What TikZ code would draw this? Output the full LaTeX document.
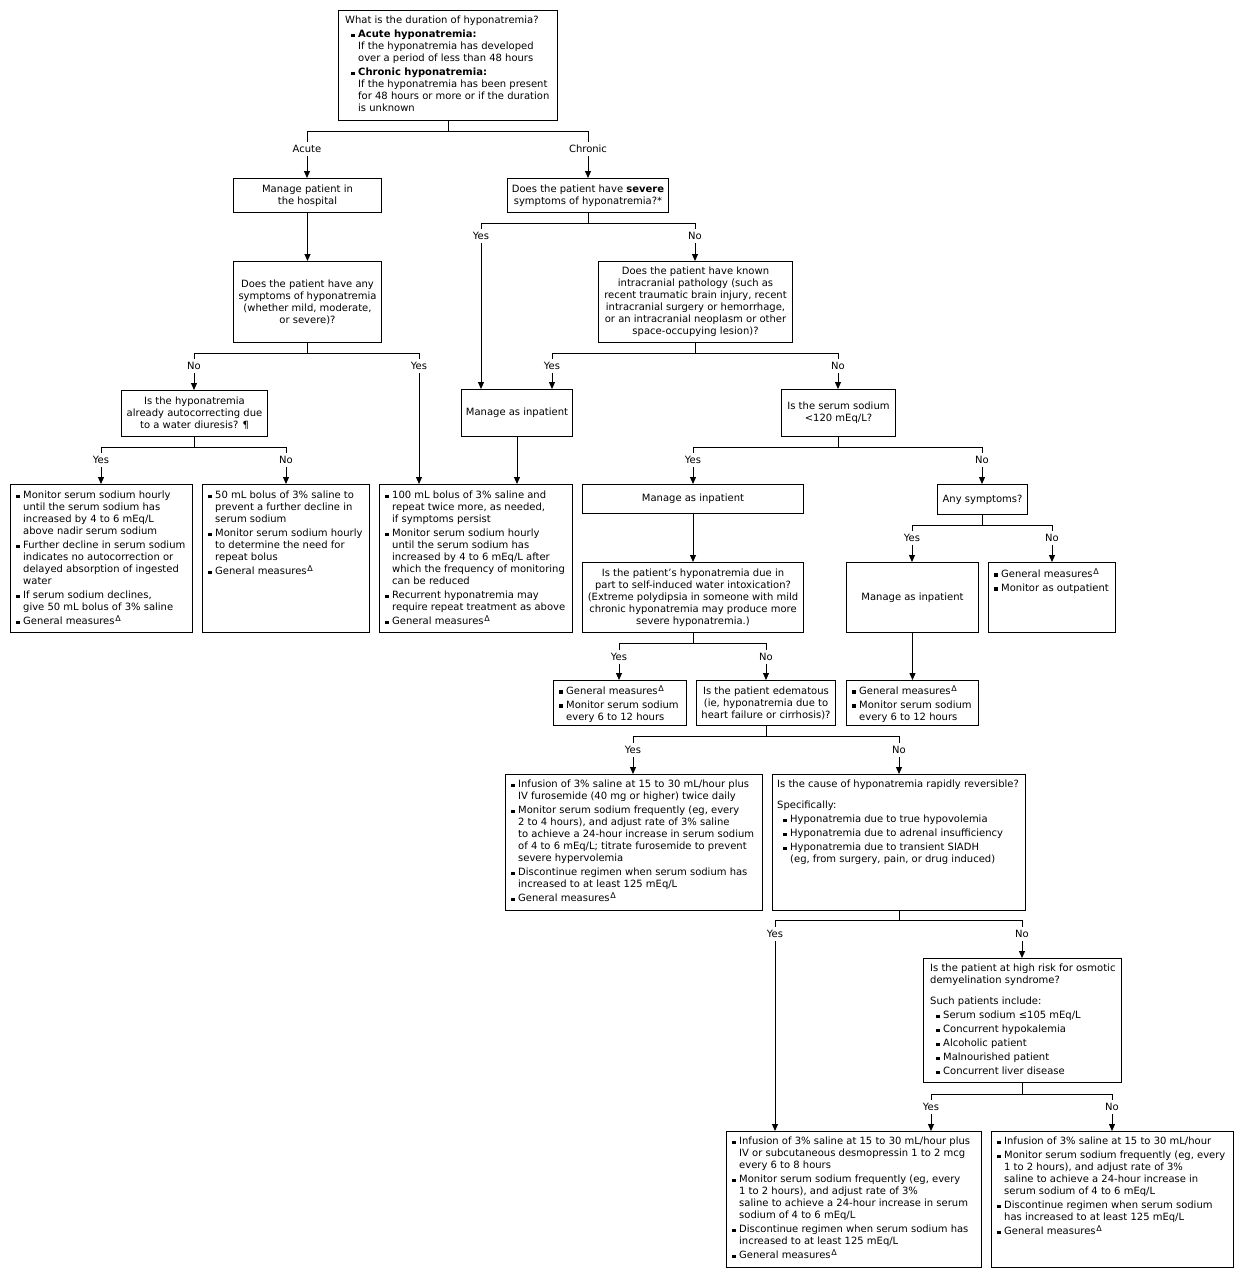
\documentclass[tikz,border=0pt]{standalone}
\usepackage{fontspec}
\setmainfont{DejaVu Sans}
\usetikzlibrary{arrows.meta}
\newcommand\fs{\fontsize{10bp}{12bp}\selectfont}
\newcommand\bu{\makebox[7bp][l]{\rule[0.6bp]{3.6bp}{3.6bp}}}
\newcommand\ci{\hspace*{7bp}}
\newcommand\gm{General measures\hspace{0.8bp}\raisebox{3.6bp}{\fontsize{8bp}{8bp}\selectfont Δ}}
\tikzset{
  box/.style={draw, line width=1bp, anchor=north west, inner sep=0pt, font=\fs, align=center},
  wh/.style 2 args={minimum width=#1bp, minimum height=#2bp},
  txt/.style={anchor=north west, inner sep=0pt, align=left, font=\fs},
  lab/.style={font=\fs, inner sep=3bp},
  ln/.style={line width=1bp},
  arr/.style={line width=1bp, -{Triangle[length=7bp,width=6bp]}},
}
\begin{document}
\begin{tikzpicture}[x=1bp,y=-1bp]
\fill[white] (0,0) rectangle (1244,1278);
\useasboundingbox (0,0) rectangle (1244,1278);

% ---------- boxes ----------
\node[box, wh={219}{110}] (top) at (338,10) {};
\node[txt] (topt) at ([shift={(7,6)}]top.north west) {What is the duration of hyponatremia?\\[2bp]
\hspace*{6bp}\bu\textbf{Acute hyponatremia:}\\
\hspace*{13bp}If the hyponatremia has developed\\
\hspace*{13bp}over a period of less than 48 hours\\[2bp]
\hspace*{6bp}\bu\textbf{Chronic hyponatremia:}\\
\hspace*{13bp}If the hyponatremia has been present\\
\hspace*{13bp}for 48 hours or more or if the duration\\
\hspace*{13bp}is unknown};

\node[box, wh={148}{34}] (b2) at (233,178) {Manage patient in\\the hospital};
\node[box, wh={148}{81}] (b3) at (233,261) {Does the patient have any\\symptoms of hyponatremia\\(whether mild, moderate,\\or severe)?};
\node[box, wh={146}{46}] (b4) at (121,390) {Is the hyponatremia\\already autocorrecting due\\to a water diuresis? ¶};

\node[box, wh={182}{148}] (b5) at (10,484) {};
\node[txt] (b5t) at ([shift={(6,7)}]b5.north west) {\bu Monitor serum sodium hourly\\
\ci until the serum sodium has\\
\ci increased by 4 to 6 mEq/L\\
\ci above nadir serum sodium\\[2bp]
\bu Further decline in serum sodium\\
\ci indicates no autocorrection or\\
\ci delayed absorption of ingested\\
\ci water\\[2bp]
\bu If serum sodium declines,\\
\ci give 50 mL bolus of 3\% saline\\[2bp]
\bu\gm};

\node[box, wh={167}{148}] (b6) at (202,484) {};
\node[txt] (b6t) at ([shift={(6,7)}]b6.north west) {\bu 50 mL bolus of 3\% saline to\\
\ci prevent a further decline in\\
\ci serum sodium\\[2bp]
\bu Monitor serum sodium hourly\\
\ci to determine the need for\\
\ci repeat bolus\\[2bp]
\bu\gm};

\node[box, wh={193}{148}] (b7) at (379,484) {};
\node[txt] (b7t) at ([shift={(6,7)}]b7.north west) {\bu 100 mL bolus of 3\% saline and\\
\ci repeat twice more, as needed,\\
\ci if symptoms persist\\[2bp]
\bu Monitor serum sodium hourly\\
\ci until the serum sodium has\\
\ci increased by 4 to 6 mEq/L after\\
\ci which the frequency of monitoring\\
\ci can be reduced\\[2bp]
\bu Recurrent hyponatremia may\\
\ci require repeat treatment as above\\[2bp]
\bu\gm};

\node[box, wh={161}{34}] (c1) at (507,178) {Does the patient have \textbf{severe}\\symptoms of hyponatremia?*};
\node[box, wh={194}{81}] (c2) at (598,261) {Does the patient have known\\intracranial pathology (such as\\recent traumatic brain injury, recent\\intracranial surgery or hemorrhage,\\or an intracranial neoplasm or other\\space-occupying lesion)?};
\node[box, wh={111}{47}] (mi1) at (461,389) {Manage as inpatient};
\node[box, wh={114}{47}] (c3) at (781,389) {Is the serum sodium\\<120 mEq/L?};
\node[box, wh={221}{29}] (mi2) at (582,484) {Manage as inpatient};
\node[box, wh={90}{30}] (c4) at (937,484) {Any symptoms?};
\node[box, wh={221}{70}] (c5) at (582,562) {Is the patient\symbol{39}s hyponatremia due in\\part to self-induced water intoxication?\\(Extreme polydipsia in someone with mild\\chronic hyponatremia may produce more\\severe hyponatremia.)};
\node[box, wh={132}{70}] (mi3) at (846,562) {Manage as inpatient};
\node[box, wh={127}{70}] (d1) at (988,562) {};
\node[txt] (d1t) at ([shift={(6,6)}]d1.north west) {\bu\gm\\[2bp]\bu Monitor as outpatient};

\node[box, wh={133}{45}] (d2) at (553,680) {};
\node[txt] (d2t) at ([shift={(6,5)}]d2.north west) {\bu\gm\\[2bp]\bu Monitor serum sodium\\\ci every 6 to 12 hours};
\node[box, wh={139}{45}] (c6) at (696,680) {Is the patient edematous\\(ie, hyponatremia due to\\heart failure or cirrhosis)?};
\node[box, wh={132}{45}] (d3) at (846,680) {};
\node[txt] (d3t) at ([shift={(6,5)}]d3.north west) {\bu\gm\\[2bp]\bu Monitor serum sodium\\\ci every 6 to 12 hours};

\node[box, wh={257}{136}] (d4) at (505,774) {};
\node[txt] (d4t) at ([shift={(6,6)}]d4.north west) {\bu Infusion of 3\% saline at 15 to 30 mL/hour plus\\
\ci IV furosemide (40 mg or higher) twice daily\\[2bp]
\bu Monitor serum sodium frequently (eg, every\\
\ci 2 to 4 hours), and adjust rate of 3\% saline\\
\ci to achieve a 24-hour increase in serum sodium\\
\ci of 4 to 6 mEq/L; titrate furosemide to prevent\\
\ci severe hypervolemia\\[2bp]
\bu Discontinue regimen when serum sodium has\\
\ci increased to at least 125 mEq/L\\[2bp]
\bu\gm};

\node[box, wh={253}{136}] (c7) at (772,774) {};
\node[txt] (c7t) at ([shift={(5,6)}]c7.north west) {Is the cause of hyponatremia rapidly reversible?\\[9bp]
Specifically:\\[2bp]
\hspace*{6bp}\bu Hyponatremia due to true hypovolemia\\[2bp]
\hspace*{6bp}\bu Hyponatremia due to adrenal insufficiency\\[2bp]
\hspace*{6bp}\bu Hyponatremia due to transient SIADH\\
\hspace*{13bp}(eg, from surgery, pain, or drug induced)};

\node[box, wh={198}{124}] (c8) at (923,958) {};
\node[txt] (c8t) at ([shift={(7,6)}]c8.north west) {Is the patient at high risk for osmotic\\
demyelination syndrome?\\[9bp]
Such patients include:\\[2bp]
\hspace*{6bp}\bu Serum sodium ≤105 mEq/L\\[2bp]
\hspace*{6bp}\bu Concurrent hypokalemia\\[2bp]
\hspace*{6bp}\bu Alcoholic patient\\[2bp]
\hspace*{6bp}\bu Malnourished patient\\[2bp]
\hspace*{6bp}\bu Concurrent liver disease};

\node[box, wh={255}{136}] (d5) at (726,1131) {};
\node[txt] (d5t) at ([shift={(6,6)}]d5.north west) {\bu Infusion of 3\% saline at 15 to 30 mL/hour plus\\
\ci IV or subcutaneous desmopressin 1 to 2 mcg\\
\ci every 6 to 8 hours\\[2bp]
\bu Monitor serum sodium frequently (eg, every\\
\ci 1 to 2 hours), and adjust rate of 3\%\\
\ci saline to achieve a 24-hour increase in serum\\
\ci sodium of 4 to 6 mEq/L\\[2bp]
\bu Discontinue regimen when serum sodium has\\
\ci increased to at least 125 mEq/L\\[2bp]
\bu\gm};

\node[box, wh={242}{136}] (d6) at (991,1131) {};
\node[txt] (d6t) at ([shift={(6,6)}]d6.north west) {\bu Infusion of 3\% saline at 15 to 30 mL/hour\\[2bp]
\bu Monitor serum sodium frequently (eg, every\\
\ci 1 to 2 hours), and adjust rate of 3\%\\
\ci saline to achieve a 24-hour increase in\\
\ci serum sodium of 4 to 6 mEq/L\\[2bp]
\bu Discontinue regimen when serum sodium\\
\ci has increased to at least 125 mEq/L\\[2bp]
\bu\gm};

% ---------- labels ----------
\node[lab] (lAcute) at (307,149) {Acute};
\node[lab] (lChronic) at (588,149) {Chronic};
\node[lab] (lNo1) at (194,366) {No};
\node[lab] (lYes1) at (419,366) {Yes};
\node[lab] (lYes2) at (101,460) {Yes};
\node[lab] (lNo2) at (286,460) {No};
\node[lab] (lYes3) at (481,236) {Yes};
\node[lab] (lNo3) at (695,236) {No};
\node[lab] (lYes4) at (552,366) {Yes};
\node[lab] (lNo4) at (838,366) {No};
\node[lab] (lYes5) at (693,460) {Yes};
\node[lab] (lNo5) at (982,460) {No};
\node[lab] (lYes6) at (912,538) {Yes};
\node[lab] (lNo6) at (1052,538) {No};
\node[lab] (lYes7) at (619,657) {Yes};
\node[lab] (lNo7) at (766,657) {No};
\node[lab] (lYes8) at (633,750) {Yes};
\node[lab] (lNo8) at (899,750) {No};
\node[lab] (lYes9) at (775,934) {Yes};
\node[lab] (lNo9) at (1022,934) {No};
\node[lab] (lYes10) at (931,1107) {Yes};
\node[lab] (lNo10) at (1112,1107) {No};

% ---------- connectors ----------
\draw[ln] (top.south) -- ++(0,10) coordinate (s0);
\draw[ln] (s0) -| (lAcute.north);
\draw[ln] (s0) -| (lChronic.north);
\draw[arr] (lAcute.south) -- (lAcute.south |- b2.north);
\draw[arr] (lChronic.south) -- (lChronic.south |- c1.north);

\draw[arr] (b2.south) -- (b2.south |- b3.north);
\draw[ln] (b3.south) -- ++(0,10) coordinate (s3);
\draw[ln] (s3) -| (lNo1.north);
\draw[ln] (s3) -| (lYes1.north);
\draw[arr] (lNo1.south) -- (lNo1.south |- b4.north);
\draw[arr] (lYes1.south) -- (lYes1.south |- b7.north);
\draw[ln] (b4.south) -- ++(0,10) coordinate (s4);
\draw[ln] (s4) -| (lYes2.north);
\draw[ln] (s4) -| (lNo2.north);
\draw[arr] (lYes2.south) -- (lYes2.south |- b5.north);
\draw[arr] (lNo2.south) -- (lNo2.south |- b6.north);

\draw[ln] (c1.south) -- ++(0,10) coordinate (sc1);
\draw[ln] (sc1) -| (lYes3.north);
\draw[ln] (sc1) -| (lNo3.north);
\draw[arr] (lYes3.south) -- (lYes3.south |- mi1.north);
\draw[arr] (lNo3.south) -- (lNo3.south |- c2.north);
\draw[ln] (c2.south) -- ++(0,10) coordinate (sc2);
\draw[ln] (sc2) -| (lYes4.north);
\draw[ln] (sc2) -| (lNo4.north);
\draw[arr] (lYes4.south) -- (lYes4.south |- mi1.north);
\draw[arr] (lNo4.south) -- (lNo4.south |- c3.north);
\draw[arr] (mi1.south) -- (mi1.south |- b7.north);

\draw[ln] (c3.south) -- ++(0,10) coordinate (sc3);
\draw[ln] (sc3) -| (lYes5.north);
\draw[ln] (sc3) -| (lNo5.north);
\draw[arr] (lYes5.south) -- (lYes5.south |- mi2.north);
\draw[arr] (lNo5.south) -- (lNo5.south |- c4.north);
\draw[arr] (mi2.south) -- (mi2.south |- c5.north);

\draw[ln] (c4.south) -- ++(0,10) coordinate (sc4);
\draw[ln] (sc4) -| (lYes6.north);
\draw[ln] (sc4) -| (lNo6.north);
\draw[arr] (lYes6.south) -- (lYes6.south |- mi3.north);
\draw[arr] (lNo6.south) -- (lNo6.south |- d1.north);
\draw[arr] (mi3.south) -- (mi3.south |- d3.north);

\draw[ln] (c5.south) -- ++(0,10) coordinate (sc5);
\draw[ln] (sc5) -| (lYes7.north);
\draw[ln] (sc5) -| (lNo7.north);
\draw[arr] (lYes7.south) -- (lYes7.south |- d2.north);
\draw[arr] (lNo7.south) -- (lNo7.south |- c6.north);

\draw[ln] (c6.south) -- ++(0,10) coordinate (sc6);
\draw[ln] (sc6) -| (lYes8.north);
\draw[ln] (sc6) -| (lNo8.north);
\draw[arr] (lYes8.south) -- (lYes8.south |- d4.north);
\draw[arr] (lNo8.south) -- (lNo8.south |- c7.north);

\draw[ln] (c7.south) -- ++(0,9) coordinate (sc7);
\draw[ln] (sc7) -| (lYes9.north);
\draw[ln] (sc7) -| (lNo9.north);
\draw[arr] (lYes9.south) -- (lYes9.south |- d5.north);
\draw[arr] (lNo9.south) -- (lNo9.south |- c8.north);

\draw[ln] (c8.south) -- ++(0,11) coordinate (sc8);
\draw[ln] (sc8) -| (lYes10.north);
\draw[ln] (sc8) -| (lNo10.north);
\draw[arr] (lYes10.south) -- (lYes10.south |- d5.north);
\draw[arr] (lNo10.south) -- (lNo10.south |- d6.north);
\end{tikzpicture}
\end{document}
